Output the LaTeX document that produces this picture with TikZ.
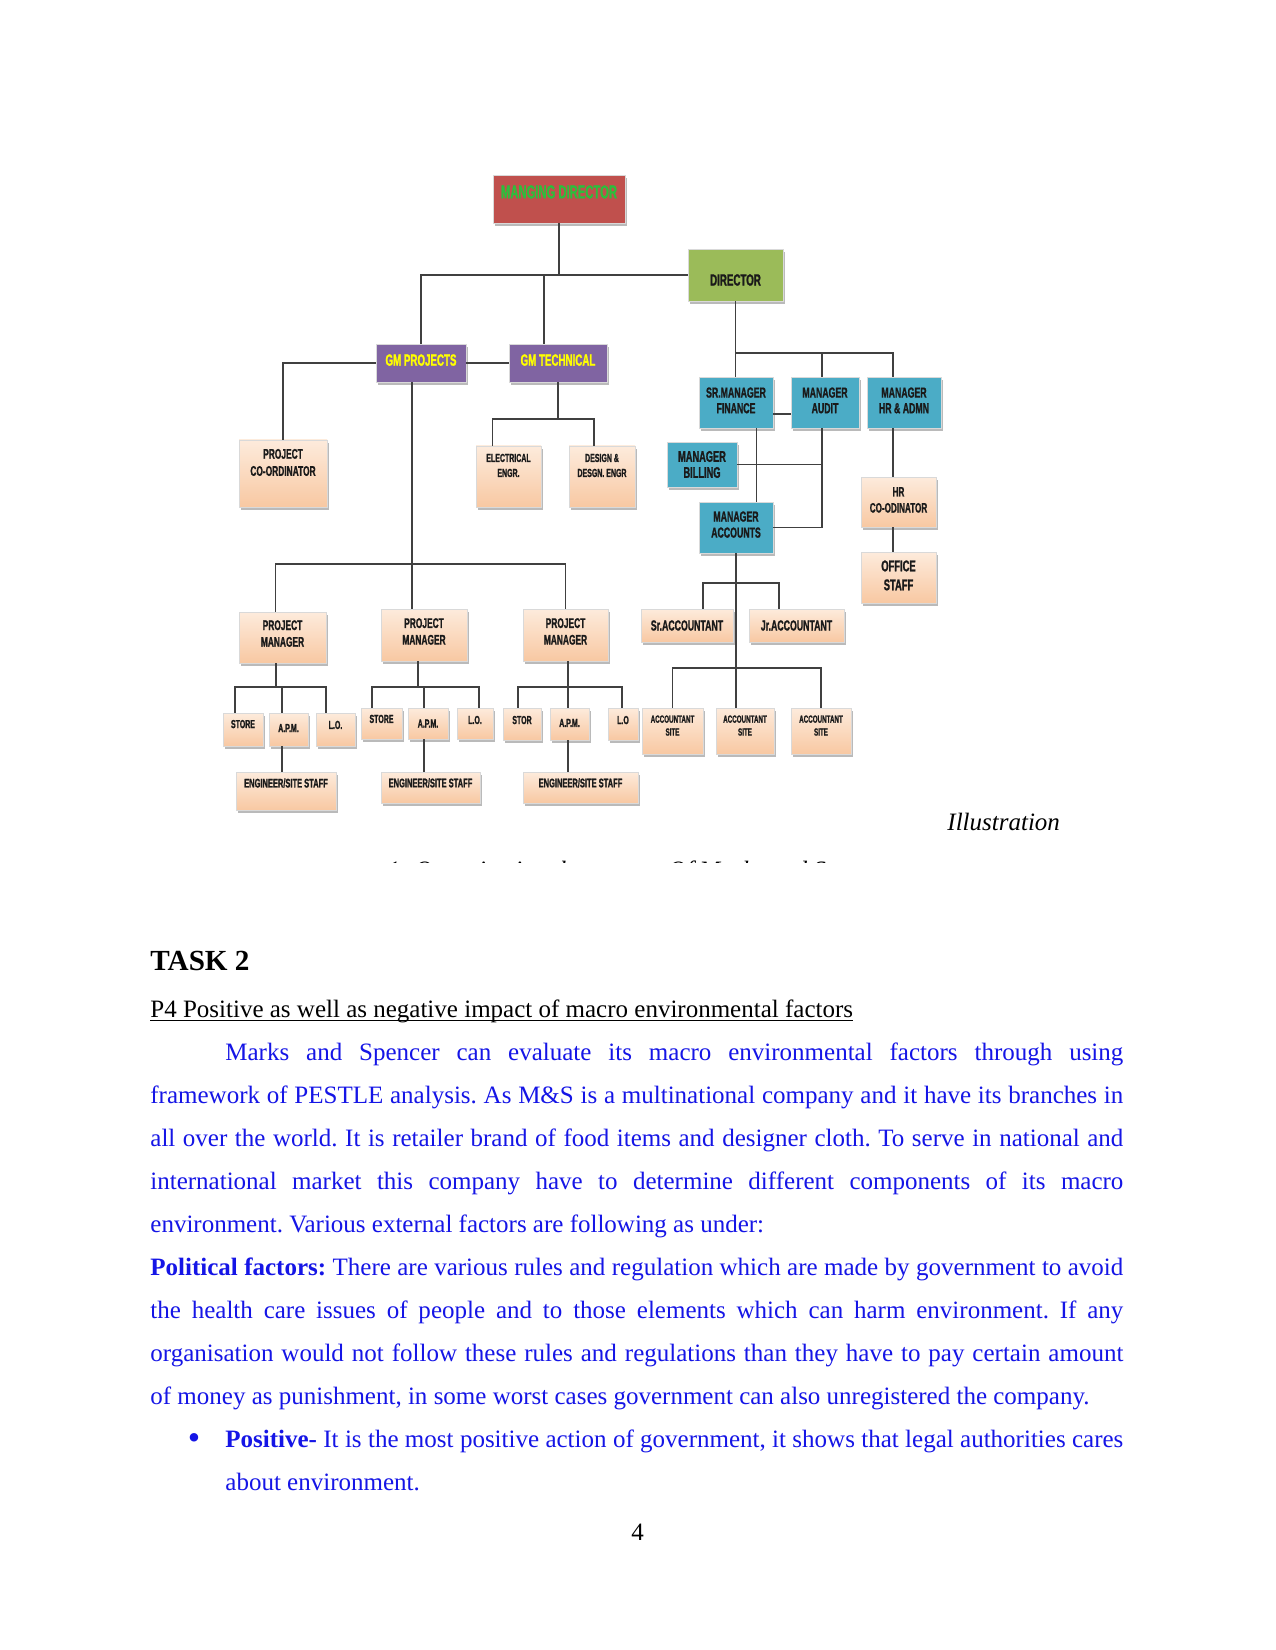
\documentclass[tikz,border=0pt]{standalone}
\usepackage{fontspec}
\setmainfont{Liberation Serif}
\newfontfamily\boxfont{Liberation Sans}[FakeStretch=0.6, BoldFeatures={FakeBold=1.2}]
\usepackage{xcolor}
\usetikzlibrary{shadows}
\definecolor{mdRed}{HTML}{C0504D}
\definecolor{mdInk}{HTML}{2DBE3C}
\definecolor{dirGreen}{HTML}{9BBB59}
\definecolor{gmPurple}{HTML}{8064A2}
\definecolor{gmInk}{HTML}{FFFF00}
\definecolor{mgrBlue}{HTML}{4BACC6}
\definecolor{peachTop}{HTML}{FDEBDC}
\definecolor{peachBot}{HTML}{F8C8A2}
\definecolor{boxInk}{HTML}{1A1A1A}
\definecolor{bodyBlue}{HTML}{1515E6}

\tikzset{
  orgbox/.style={rectangle, inner sep=0pt, draw=black!15, line width=0.3pt,
    drop shadow={shadow xshift=0.8pt, shadow yshift=-1.3pt, fill=black!60, opacity=0.45}},
  peach/.style={orgbox, top color=peachTop, bottom color=peachBot},
  bluebox/.style={orgbox, fill=mgrBlue},
  sz/.style 2 args={minimum width=#1*0.48pt, minimum height=#2*0.48pt},
  fs/.style 2 args={font=\boxfont\bfseries\fontsize{#1}{#2}\selectfont},
  txt/.style={align=center, inner sep=0pt, text=boxInk},
  link/.style={draw=black!75, line width=0.6pt},
  para/.style={anchor=base west, inner sep=0pt, text width=467pt, align=justify,
    text=bodyBlue, font=\fontsize{12}{20.64}\selectfont},
}

\begin{document}
\begin{tikzpicture}[x=0.48pt, y=-0.48pt]
  \useasboundingbox[fill=white] (0,0) rectangle (1275,1650);

  % top of the chart
  \node[orgbox, fill=mdRed, sz={132}{48}, label={[txt, fs={9}{10}, text=mdInk, yshift=3.4pt]center:MANGING DIRECTOR}] (md) at (559,199) {};
  \node[orgbox, fill=dirGreen, sz={95}{52}, label={[txt, fs={7.8}{9}, yshift=-2.4pt]center:DIRECTOR}] (dir) at (735.5,275) {};
  \node[orgbox, fill=gmPurple, sz={90}{38}, label={[txt, fs={7.8}{9}, text=gmInk, yshift=1.4pt]center:GM PROJECTS}] (gmp) at (421,363) {};
  \node[orgbox, fill=gmPurple, sz={98}{38}, label={[txt, fs={7.8}{9}, text=gmInk, yshift=1.4pt]center:GM TECHNICAL}] (gmt) at (558,363) {};

  % finance side
  \node[bluebox, sz={74}{51}, label={[txt, fs={7}{7.5}, yshift=1pt]center:SR.MANAGER\\FINANCE}] (srm) at (736,402.5) {};
  \node[bluebox, sz={68}{51}, label={[txt, fs={7}{7.5}, yshift=1pt]center:MANAGER\\AUDIT}] (aud) at (825,402.5) {};
  \node[bluebox, sz={74}{51}, label={[txt, fs={7}{7.5}, yshift=1pt]center:MANAGER\\HR \& ADMN}] (hra) at (904,402.5) {};
  \node[bluebox, sz={70}{45}, label={[txt, fs={7.4}{7.7}]center:MANAGER\\BILLING}] (bil) at (702,464.5) {};
  \node[bluebox, sz={74}{51}, label={[txt, fs={7}{7.7}, yshift=1.4pt]center:MANAGER\\ACCOUNTS}] (acc) at (736,527.5) {};
  \node[peach, sz={75}{50}, label={[txt, fs={6.5}{7.7}, yshift=1pt]center:HR\\CO-ODINATOR}] (hrc) at (898.5,502) {};
  \node[peach, sz={75}{51}, label={[txt, fs={7.5}{9.1}, yshift=1pt]center:OFFICE\\STAFF}] (off) at (898.5,577.5) {};
  \node[peach, sz={92}{33}, label={[txt, fs={7}{8}]center:Sr.ACCOUNTANT}] (sra) at (687,625.5) {};
  \node[peach, sz={95}{33}, label={[txt, fs={7}{8}]center:Jr.ACCOUNTANT}] (jra) at (796.5,625.5) {};
  \node[peach, sz={61}{46}, label={[txt, fs={5}{6.2}, yshift=2.6pt]center:ACCOUNTANT\\SITE}] (as1) at (672.5,731) {};
  \node[peach, sz={58}{46}, label={[txt, fs={5}{6.2}, yshift=2.6pt]center:ACCOUNTANT\\SITE}] (as2) at (745,731) {};
  \node[peach, sz={60}{46}, label={[txt, fs={5}{6.2}, yshift=2.6pt]center:ACCOUNTANT\\SITE}] (as3) at (821,731) {};

  % projects side
  \node[peach, sz={88}{67}, label={[txt, fs={6.7}{8.2}, yshift=5.3pt]center:PROJECT\\CO-ORDINATOR}] (pc) at (283,473.5) {};
  \node[peach, sz={65}{61}, label={[txt, fs={5.6}{7.2}, yshift=5.3pt]center:ELECTRICAL\\ENGR.}] (ele) at (508.5,476.5) {};
  \node[peach, sz={66}{61}, label={[txt, fs={5.6}{7.2}, yshift=5.3pt]center:DESIGN \&\\DESGN. ENGR}] (des) at (602,476.5) {};
  \node[peach, sz={87}{51}, label={[txt, fs={6.7}{8}, yshift=1.9pt]center:PROJECT\\MANAGER}] (pm1) at (282.5,637.5) {};
  \node[peach, sz={86}{52}, label={[txt, fs={6.7}{8}, yshift=1.7pt]center:PROJECT\\MANAGER}] (pm2) at (424,635) {};
  \node[peach, sz={85}{52}, label={[txt, fs={6.7}{8}, yshift=1.7pt]center:PROJECT\\MANAGER}] (pm3) at (565.5,635) {};

  \node[peach, sz={40}{33}, label={[txt, fs={5.6}{6.5}, yshift=2.6pt]center:STORE}] (st1) at (243,729.5) {};
  \node[peach, sz={39}{33}, label={[txt, fs={5.6}{6.5}, yshift=0.7pt]center:A.P.M.}] (ap1) at (288.5,729.5) {};
  \node[peach, sz={39}{33}, label={[txt, fs={5.6}{6.5}, yshift=2.2pt]center:L.O.}] (lo1) at (335.5,729.5) {};
  \node[peach, sz={41}{31}, label={[txt, fs={5.6}{6.5}, yshift=2.2pt]center:STORE}] (st2) at (381.5,723.5) {};
  \node[peach, sz={40}{31}, label={[txt, fs={5.6}{6.5}]center:A.P.M.}] (ap2) at (428,723.5) {};
  \node[peach, sz={36}{31}, label={[txt, fs={5.6}{6.5}, yshift=1.7pt]center:L.O.}] (lo2) at (475,723.5) {};
  \node[peach, sz={38}{32}, label={[txt, fs={5.6}{6.5}, yshift=1.9pt]center:STOR}] (st3) at (522,724) {};
  \node[peach, sz={39}{32}, label={[txt, fs={5.6}{6.5}, yshift=0.5pt]center:A.P.M.}] (ap3) at (569.5,724) {};
  \node[peach, sz={30}{32}, label={[txt, fs={5.6}{6.5}, yshift=1.9pt]center:L.O}] (lo3) at (623,724) {};
  \node[peach, sz={100}{38}, label={[txt, fs={6}{7}, yshift=3.8pt]center:ENGINEER/SITE STAFF}] (en1) at (286,791) {};
  \node[peach, sz={99}{31}, label={[txt, fs={6}{7}, yshift=2.2pt]center:ENGINEER/SITE STAFF}] (en2) at (430.5,787.5) {};
  \node[peach, sz={115}{31}, label={[txt, fs={6}{7}, yshift=2.2pt]center:ENGINEER/SITE STAFF}] (en3) at (580.5,787.5) {};

  \coordinate (techbus) at (554,419);
  \coordinate (pmbus) at (412,564);
  \coordinate (grpbus) at (0,687);
  \coordinate (finbus) at (0,353);
  \coordinate (accbus) at (0,583);
  \coordinate (sitebus) at (0,668);
  \coordinate (audline) at ([xshift=-1.4pt]aud.south);

  \draw[link] (md.south) -- (md.south |- dir.west);
  \draw[link] (gmp.north) |- (dir.west);
  \draw[link] ([xshift=-6.7pt]gmt.north) -- ([xshift=-6.7pt]gmt.north |- dir.west);
  \draw[link] (gmp.east) -- (gmt.west);
  \draw[link] (gmp.west) -| (pc.north);
  \draw[link] (gmt.south) -- (gmt.south |- techbus);
  \draw[link] ([xshift=-7.7pt]ele.north) |- ([xshift=-3.8pt]des.north |- techbus) -- ([xshift=-3.8pt]des.north);

  \draw[link] ([xshift=-4.3pt]gmp.south) -- ([xshift=-4.3pt]gmp.south |- pm2.north);
  \draw[link] ([xshift=-3.4pt]pm1.north) |- (pm3.north |- pmbus) -- (pm3.north);

  \draw[link] ([xshift=-3.1pt]pm1.south) -- ([xshift=-3.1pt]pm1.south |- grpbus);
  \draw[link] ([xshift=-3.8pt]st1.north) |- ([xshift=-4.6pt]lo1.north |- grpbus) -- ([xshift=-4.6pt]lo1.north);
  \draw[link] ([xshift=-3.1pt]ap1.north) -- ([xshift=-3.1pt]ap1.north |- grpbus);
  \draw[link] ([xshift=-3.1pt]ap1.south) -- ([xshift=-3.1pt]ap1.south |- en1.north);

  \draw[link] ([xshift=-2.9pt]pm2.south) -- ([xshift=-2.9pt]pm2.south |- grpbus);
  \draw[link] ([xshift=-4.6pt]st2.north) |- ([xshift=1.9pt]lo2.north |- grpbus) -- ([xshift=1.9pt]lo2.north);
  \draw[link] ([xshift=-1.9pt]ap2.north) -- ([xshift=-1.9pt]ap2.north |- grpbus);
  \draw[link] ([xshift=-1.9pt]ap2.south) -- ([xshift=-1.9pt]ap2.south |- en2.north);

  \draw[link] ([xshift=1.2pt]pm3.south) -- ([xshift=1.2pt]pm3.south |- grpbus);
  \draw[link] ([xshift=-1.9pt]st3.north) |- ([xshift=-0.5pt]lo3.north |- grpbus) -- ([xshift=-0.5pt]lo3.north);
  \draw[link] ([xshift=-0.7pt]ap3.north) -- ([xshift=-0.7pt]ap3.north |- grpbus);
  \draw[link] ([xshift=-0.7pt]ap3.south) -- ([xshift=-0.7pt]ap3.south |- en3.north);

  \draw[link] (dir.south) -- (dir.south |- srm.north);
  \draw[link] (dir.south |- finbus) -| ([xshift=-5.3pt]hra.north);
  \draw[link] ([xshift=-1.4pt]aud.north) -- ([xshift=-1.4pt]aud.north |- finbus);
  \draw[link] ([yshift=-5.5pt]srm.east) -- ([yshift=-5.5pt]srm.east -| aud.west);
  \draw[link] ([xshift=10pt]srm.south) -- ([xshift=10pt]acc.north);
  \draw[link] (bil.east) -- (bil.east -| audline);
  \draw[link] (audline) |- (acc.east);
  \draw[link] ([xshift=-2.6pt]hrc.north) -- ([xshift=-2.6pt]hrc.north |- hra.south);
  \draw[link] ([xshift=-2.6pt]hrc.south) -- ([xshift=-2.6pt]off.north);
  \draw[link] (acc.south) -- (acc.south |- as2.north);
  \draw[link] ([xshift=7.7pt]sra.north) |- ([xshift=-8.4pt]jra.north |- accbus) -- ([xshift=-8.4pt]jra.north);
  \draw[link] (as1.north) |- (as3.north |- sitebus) -- (as3.north);

  % caption, partly hidden under the picture
  \node[anchor=base west, inner sep=0pt, font=\itshape\fontsize{12}{14}\selectfont] (illus) at (947,830) {Illustration};
  \begin{scope}
    \clip (0,0) rectangle (1275,862);
    \node[anchor=base west, inner sep=0pt, font=\itshape\fontsize{12}{14}\selectfont] (capline) at (387,878) {1. Organisational structure Of Marks and Spencer};
  \end{scope}

  % text of the page
  \node[anchor=base west, inner sep=0pt, font=\bfseries\fontsize{14}{16}\selectfont] (task) at (150,970) {TASK 2};
  \node[anchor=base west, inner sep=0pt, font=\fontsize{12}{14}\selectfont] (head) at (150,1017) {P4 Positive as well as negative impact of macro environmental factors};
  \draw[line width=0.5pt] ([yshift=-1.5pt]head.base west) -- ([yshift=-1.5pt]head.base east);

  \node[para] (intro) at (150,1060) {\frenchspacing\hyphenpenalty=10000\hspace*{36pt}Marks and Spencer can evaluate its macro environmental factors through using\linebreak
    framework of PESTLE analysis. As M\&S is a multinational company and it have its branches in\linebreak
    all over the world. It is retailer brand of food items and designer cloth. To serve in national and\linebreak
    international market this company have to determine different components of its macro\linebreak
    environment. Various external factors are following as under:};
  \node[para] (political) at (150,1275) {\frenchspacing\hyphenpenalty=10000\textbf{Political factors:} There are various rules and regulation which are made by government to avoid\linebreak
    the health care issues of people and to those elements which can harm environment. If any\linebreak
    organisation would not follow these rules and regulations than they have to pay certain amount\linebreak
    of money as punishment, in some worst cases government can also unregistered the company.};
  \node[para, text width=431pt] (positive) at (225,1447) {\frenchspacing\hyphenpenalty=10000\noindent\llap{\makebox[18pt][l]{\fontsize{17}{17}\selectfont\raisebox{-1.2pt}{\textbullet}}}\textbf{Positive-} It is the most positive action of government, it shows that legal authorities cares\linebreak
    about environment.};

  \node[anchor=base, inner sep=0pt, font=\fontsize{12}{14}\selectfont] (pgnum) at (637.5,1540) {4};
\end{tikzpicture}
\end{document}
